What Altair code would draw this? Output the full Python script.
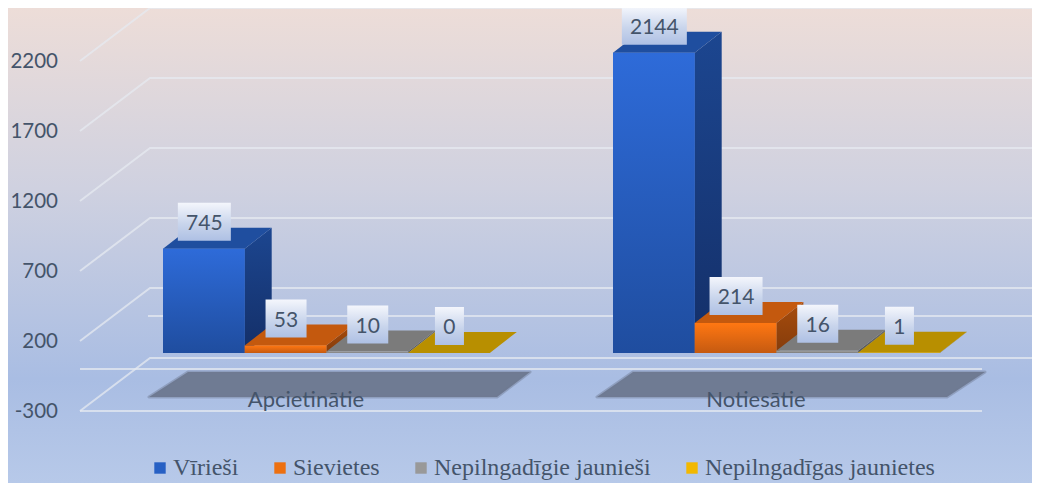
import altair as alt
import pandas as pd

# ---- chart values
groups = ["Apcietinātie", "Notiesātie"]
series = ["Vīrieši", "Sievietes", "Nepilngadīgie jaunieši", "Nepilngadīgas jaunietes"]
values_viriesi = [745, 2144]
values_sievietes = [53, 214]
values_jauniesi = [10, 16]
values_jaunietes = [0, 1]
tick_labels = [-300, 200, 700, 1200, 1700, 2200]

all_values = [values_viriesi, values_sievietes, values_jauniesi, values_jaunietes]

# ---- layout (page pixels are used as the horizontal data unit)
W, H = 1024, 475
PX_PER_UNIT = 0.14
BASE_Y = 353
X_MIN, X_MAX = 8, 1032
Y_TOP, Y_BOTTOM = 8, 483


def u(py):
    """Value that the y scale places at page row py."""
    return (BASE_Y - py) / PX_PER_UNIT


DEPTH_X = 27
DEPTH_V = 21 / PX_PER_UNIT
BAR_W = 81.7
GROUP_X = [163, 613]
WALL_SHIFT = 37 / PX_PER_UNIT
FRONT_SHIFT = -16 / PX_PER_UNIT

xs = alt.Scale(domain=[X_MIN, X_MAX], range=[0, W], nice=False, zero=False)
ys = alt.Scale(domain=[u(Y_BOTTOM), u(Y_TOP)], range=[H, 0], nice=False, zero=False)


def X(f="x", **k):
    return alt.X(f"{f}:Q", scale=xs, axis=None, **k)


def Y(f="y", **k):
    return alt.Y(f"{f}:Q", scale=ys, axis=None, **k)


def grad(*stops):
    return alt.LinearGradient(
        gradient="linear",
        stops=[alt.GradientStop(offset=o, color=c) for o, c in stops],
        x1=0, x2=0, y1=0, y2=1,
    )


# ---- background
bg = alt.Chart(pd.DataFrame({"a": [0]})).mark_rect(
    fill=grad((0, "#EDDDD8"), (0.38, "#CFD1E0"), (0.78, "#A9BDE3"), (1, "#B7C9E9"))
).encode(x=alt.value(0), x2=alt.value(W), y=alt.value(0), y2=alt.value(H))

# ---- grid lines
grid_rows = []
for t in tick_labels:
    grid_rows += [
        {"t": t, "x": 80, "y": t + FRONT_SHIFT},
        {"t": t, "x": 150, "y": t + WALL_SHIFT},
        {"t": t, "x": X_MAX, "y": t + WALL_SHIFT},
    ]
grid_rows += [
    {"t": "floor_front", "x": 80, "y": u(411)},
    {"t": "floor_front", "x": 982, "y": u(411)},
    {"t": "floor_mid", "x": 80, "y": u(369)},
    {"t": "floor_mid", "x": 982, "y": u(369)},
    {"t": "zero", "x": 148, "y": u(316)},
    {"t": "zero", "x": X_MAX, "y": u(316)},
]
grid = alt.Chart(pd.DataFrame(grid_rows)).mark_line(
    color="#E6E9F0", strokeWidth=2, opacity=0.75
).encode(x=X(), y=Y(), detail="t:N", order="x:Q")

# ---- axis labels
tick_df = pd.DataFrame({"t": tick_labels, "x": [58] * 6})
tick_df["y"] = tick_df["t"] + FRONT_SHIFT
ticks = alt.Chart(tick_df).mark_text(
    align="right", baseline="middle", font="Lato", fontSize=20.5, color="#44546A", dy=1
).encode(x=X(), y=Y(), text="t:N")

# ---- legend-bearing base bars
colors = ["#2760C4", "#ED7011", "#999999", "#F2B800"]
base_rows = []
for i, s in enumerate(series):
    for g, start in enumerate(GROUP_X):
        x0 = start + i * BAR_W
        base_rows.append({"series": s, "x": x0, "x2": x0 + BAR_W, "y": all_values[i][g], "y2": 0})
base = alt.Chart(pd.DataFrame(base_rows)).mark_rect().encode(
    x=X(), x2="x2:Q", y=Y(), y2="y2:Q",
    color=alt.Color(
        "series:N",
        scale=alt.Scale(domain=series, range=colors),
        legend=alt.Legend(
            title=None, orient="none", legendX=140, legendY=448, direction="horizontal",
            columns=4, columnPadding=29, symbolType="square", symbolSize=130,
            symbolStrokeWidth=0, labelFont="Liberation Serif", labelFontSize=24,
            labelColor="#44546A", labelLimit=300, labelOffset=1,
        ),
    ),
)

# ---- category shadows
sh_rows = []
for g, (bl, br, tl, tr) in enumerate([(149, 497, 188, 530), (597, 947, 633, 985)]):
    sh_rows += [
        {"g": g, "x": bl, "x2": br, "y": u(397)},
        {"g": g, "x": tl, "x2": tr, "y": u(372)},
    ]
shadow = alt.Chart(pd.DataFrame(sh_rows)).mark_area(
    orient="horizontal", color="#6F7B93", stroke="#6F7B93", strokeWidth=3,
    strokeOpacity=0.45, strokeJoin="round",
).encode(x=X(stack=None), x2="x2:Q", y=Y(), detail="g:N")

cat_df = pd.DataFrame({"label": groups, "x": [306, 756], "y": [u(399.5), u(399.5)]})
cats = alt.Chart(cat_df).mark_text(
    align="center", baseline="middle", font="Lato", fontSize=22, color="#44546A"
).encode(x=X(), y=Y(), text="label:N")

# ---- faces of each bar, drawn series by series
styles = [
    (grad((0, "#2E6BD9"), (1, "#1F4D9F")), "#1F4E9F", grad((0, "#1C4690"), (1, "#142F68"))),
    (grad((0, "#FF7712"), (1, "#C55A11")), "#C4590E", grad((0, "#A84C0C"), (1, "#843C0C"))),
    (grad((0, "#A5A5A5"), (1, "#7B7B7B")), "#7B7B7B", grad((0, "#6E6E6E"), (1, "#555555"))),
    (grad((0, "#FFC000"), (1, "#BF9000")), "#B88F00", grad((0, "#A88000"), (1, "#7F6000"))),
]
faces = []
for i, s in enumerate(series):
    front_fill, top_fill, side_fill = styles[i]
    side_rows, top_rows, front_rows = [], [], []
    for g, start in enumerate(GROUP_X):
        x0 = start + i * BAR_W
        x1 = x0 + BAR_W
        v = all_values[i][g]
        side_rows += [
            {"g": g, "x": x1, "y": v, "y2": 0},
            {"g": g, "x": x1 + DEPTH_X, "y": v + DEPTH_V, "y2": DEPTH_V},
        ]
        top_rows += [
            {"g": g, "x": x0, "x2": x1, "y": v},
            {"g": g, "x": x0 + DEPTH_X, "x2": x1 + DEPTH_X, "y": v + DEPTH_V},
        ]
        front_rows.append({"x": x0, "x2": x1, "y": v, "y2": 0})
    faces.append(
        alt.Chart(pd.DataFrame(side_rows)).mark_area(fill=side_fill).encode(
            x=X(), y=Y(), y2="y2:Q", detail="g:N")
    )
    faces.append(
        alt.Chart(pd.DataFrame(top_rows)).mark_area(orient="horizontal", fill=top_fill).encode(
            x=X(stack=None), x2="x2:Q", y=Y(), detail="g:N")
    )
    faces.append(
        alt.Chart(pd.DataFrame(front_rows)).mark_rect(fill=front_fill).encode(
            x=X(), x2="x2:Q", y=Y(), y2="y2:Q")
    )

# ---- data labels
label_rows = []
for i, s in enumerate(series):
    for g, start in enumerate(GROUP_X):
        v = all_values[i][g]
        txt = str(v)
        cx = start + i * BAR_W + BAR_W / 2 + 0.5
        half = (len(txt) * 12 + 17) / 2
        cy = v + 27 / PX_PER_UNIT
        label_rows.append({
            "txt": txt, "x": cx, "x0": cx - half, "x1": cx + half,
            "y": cy, "y0": cy - 19 / PX_PER_UNIT, "y1": cy + 19 / PX_PER_UNIT,
        })
label_df = pd.DataFrame(label_rows)
boxes = alt.Chart(label_df).mark_rect(
    fill=grad((0, "#F4F6FC"), (0.55, "#C9D5EC"), (1, "#AEC0E4"))
).encode(x=X("x0"), x2="x1:Q", y=Y("y1"), y2="y0:Q")
labels = alt.Chart(label_df).mark_text(
    align="center", baseline="middle", font="Lato", fontSize=21, color="#44546A", dy=2
).encode(x=X(), y=Y(), text="txt:N")

chart = alt.layer(bg, grid, ticks, base, shadow, cats, *faces, boxes, labels).properties(
    width=W, height=H, padding=0,
    autosize=alt.AutoSizeParams(type="none"),
).configure_view(stroke=None)

chart.save("out.html", embed_options={"renderer": "svg", "actions": False})
